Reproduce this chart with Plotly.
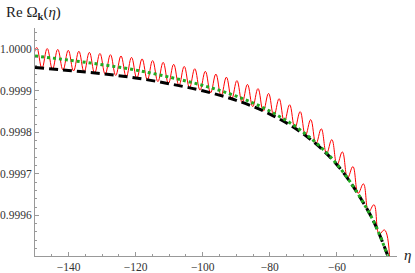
import plotly.graph_objects as go

# --- data ---
eta_smooth = [-150, -140, -130, -120, -110, -100, -90, -80, -70, -60, -50, -45, -43]
black_vals = [0.999956, 0.999949, 0.999941, 0.999931, 0.999917, 0.999900, 0.999877,
              0.999844, 0.999796, 0.999722, 0.999600, 0.999506, 0.999459]
green_vals = [0.999984, 0.999974, 0.999963, 0.999950, 0.999933, 0.999913, 0.999887,
              0.999851, 0.999800, 0.999723, 0.999600, 0.999506, 0.999459]

red_eta = [-151.07, -149.50, -147.93, -146.36, -144.79, -143.22, -141.65, -140.08,
           -138.51, -136.93, -135.36, -133.79, -132.22, -130.65, -129.08, -127.51,
           -125.94, -124.37, -122.80, -121.23, -119.66, -118.08, -116.51, -114.94,
           -113.37, -111.80, -110.23, -108.66, -107.09, -105.52, -103.95, -102.38,
           -100.81, -99.23, -97.66, -96.09, -94.52, -92.95, -91.38, -89.81,
           -88.24, -86.67, -85.10, -83.53, -81.96, -80.38, -78.81, -77.24,
           -75.67, -74.10, -72.53, -70.96, -69.39, -67.82, -66.25, -64.67,
           -63.10, -61.53, -59.96, -58.39, -56.82, -55.25, -53.68, -52.11,
           -50.54, -48.97, -47.40, -45.82, -44.25]
red_vals = [0.9999562, 1.0000043, 0.9999543, 1.0000018, 0.9999523, 0.9999997, 0.9999502, 0.9999975,
            0.9999479, 0.9999952, 0.9999454, 0.9999926, 0.9999428, 0.9999899, 0.9999400, 0.9999870,
            0.9999370, 0.9999839, 0.9999337, 0.9999805, 0.9999302, 0.9999768, 0.9999263, 0.9999728,
            0.9999222, 0.9999685, 0.9999177, 0.9999638, 0.9999128, 0.9999587, 0.9999075, 0.9999531,
            0.9999016, 0.9999469, 0.9998951, 0.9999402, 0.9998881, 0.9999328, 0.9998802, 0.9999245,
            0.9998716, 0.9999154, 0.9998619, 0.9999052, 0.9998511, 0.9998937, 0.9998390, 0.9998809,
            0.9998254, 0.9998664, 0.9998099, 0.9998499, 0.9997923, 0.9998306, 0.9997722, 0.9998084,
            0.9997489, 0.9997824, 0.9997218, 0.9997527, 0.9996903, 0.9997174, 0.9996530, 0.9996757,
            0.9996085, 0.9996255, 0.9995550, 0.9995647, 0.9994893]

x_tickvals = [-140, -120, -100, -80, -60]
x_ticktext = ["\u2212140", "\u2212120", "\u2212100", "\u221280", "\u221260"]
y_tickvals = [0.9996, 0.9997, 0.9998, 0.9999, 1.0000]
y_ticktext = ["0.9996", "0.9997", "0.9998", "0.9999", "1.0000"]

fig = go.Figure()
fig.add_trace(go.Scatter(x=red_eta, y=red_vals, mode="lines",
                         line=dict(color="#ff0000", width=1, shape="spline", smoothing=1.2),
                         hoverinfo="skip"))
fig.add_trace(go.Scatter(x=eta_smooth, y=black_vals, mode="lines",
                         line=dict(color="#000000", width=3, dash="9px,5px", shape="spline"),
                         hoverinfo="skip"))
fig.add_trace(go.Scatter(x=eta_smooth, y=green_vals, mode="lines",
                         line=dict(color="#22aa22", width=3, dash="3px,3px", shape="spline"),
                         hoverinfo="skip"))

axis_col = "#999999"
serif = "Liberation Serif"
tick_font = dict(family=serif, size=11.5, color="#333333")

fig.update_layout(
    width=415, height=273,
    margin=dict(l=35, r=18, t=28, b=17, autoexpand=False),
    paper_bgcolor="white", plot_bgcolor="white",
    showlegend=False,
    font=dict(family=serif),
    xaxis=dict(range=[-150, -42.1], showgrid=False, zeroline=False, automargin=False,
               showline=True, linecolor=axis_col, linewidth=1,
               tickmode="array", tickvals=x_tickvals, ticktext=x_ticktext,
               ticks="inside", ticklen=4, tickcolor=axis_col, tickfont=tick_font,
               minor=dict(tickmode="linear", tick0=-150, dtick=5, ticks="inside",
                          ticklen=2, tickcolor=axis_col, showgrid=False)),
    yaxis=dict(range=[0.999502, 1.0000513], showgrid=False, zeroline=False, automargin=False,
               showline=True, linecolor=axis_col, linewidth=1,
               tickmode="array", tickvals=y_tickvals, ticktext=y_ticktext,
               ticks="inside", ticklen=4, tickcolor=axis_col, tickfont=tick_font,
               minor=dict(tickmode="linear", tick0=0.9996, dtick=0.00002, ticks="inside",
                          ticklen=2, tickcolor=axis_col, showgrid=False)),
    annotations=[
        dict(text="Re \u03a9<sub><b>k</b></sub>(<i>\u03b7</i>)", xref="paper", yref="paper",
             x=-31/362, y=1 + 15/228, xanchor="left", yanchor="middle", showarrow=False,
             font=dict(family=serif, size=15, color="#222222")),
        dict(text="<i>\u03b7</i>", xref="paper", yref="paper",
             x=1 + 10/362, y=1/228, xanchor="center", yanchor="middle", showarrow=False,
             font=dict(family=serif, size=15, color="#222222")),
    ],
)

fig.write_html("out.html", config={"displayModeBar": False},
               post_script="document.body.style.margin='0';")
